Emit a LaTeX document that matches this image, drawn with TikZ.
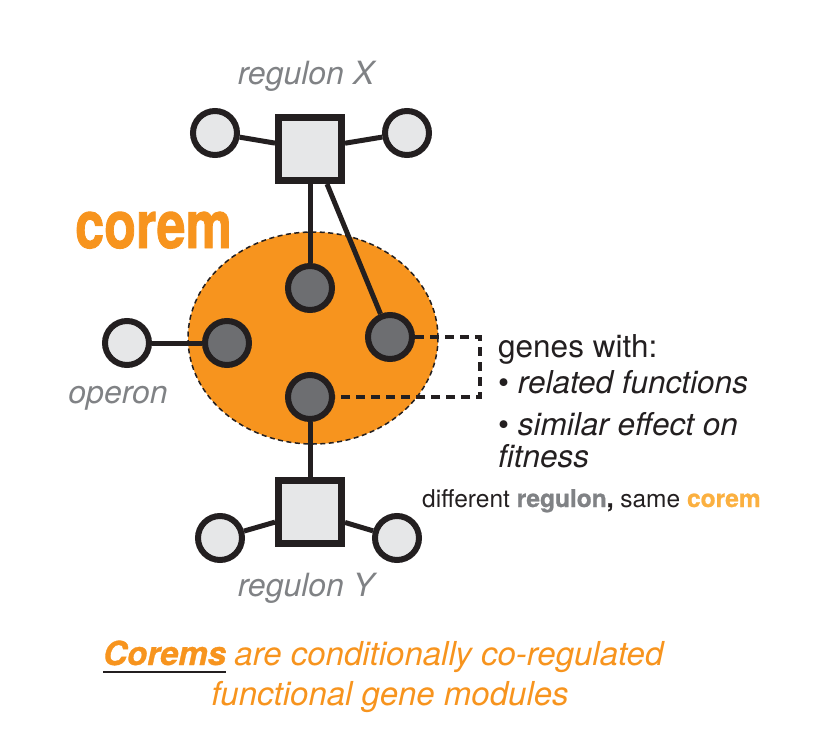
\documentclass[tikz,border=0pt]{standalone}
\usepackage{fontspec}
\setmainfont{TeX Gyre Heros}
\usetikzlibrary{shapes.geometric}
\definecolor{corange}{HTML}{F7941E}
\definecolor{lorange}{HTML}{FBB040}
\definecolor{lgray}{HTML}{E6E7E8}
\definecolor{dgray}{HTML}{6D6E71}
\definecolor{ink}{HTML}{231F20}
\definecolor{lblgray}{HTML}{808285}
\begin{document}
\begin{tikzpicture}[x=1pt,y=-1pt,
 gene/.style={circle,draw=ink,line width=6pt,minimum size=44pt,inner sep=0pt},
 lgene/.style={gene,fill=lgray},
 dgene/.style={gene,fill=dgray},
 reg/.style={rectangle,draw=ink,line width=7pt,fill=lgray,minimum size=63pt,inner sep=0pt},
 link/.style={draw=ink,line width=5pt},
 dashlink/.style={draw=ink,line width=3.5pt,dash pattern=on 9pt off 6pt},
 lbl/.style={text=lblgray,font=\fontsize{32}{36}\selectfont\itshape,inner sep=0pt,anchor=base},
 info/.style={text=ink,font=\fontsize{31.5}{36}\selectfont,inner sep=0pt,anchor=base west},
 bottomtxt/.style={text=corange,font=\fontsize{33}{38}\selectfont\itshape,inner sep=0pt}]
\useasboundingbox (0,0) rectangle (835,749);

% corem ellipse
\node[ellipse,fill=corange,draw=ink,line width=1.5pt,dash pattern=on 5pt off 3.5pt,
      minimum width=250pt,minimum height=212pt,inner sep=0pt] (corem) at (313,338) {};

% regulon X
\node[reg] (sqX) at (310,149) {};
\node[lgene] (xl) at (215,133) {};
\node[lgene] (xr) at (407,133) {};
% regulon Y
\node[reg] (sqY) at (310,512) {};
\node[lgene] (yl) at (220,538) {};
\node[lgene] (yr) at (397,538) {};
% operon
\node[lgene] (op) at (127,343) {};
% corem genes
\node[dgene] (c1) at (310,288) {};
\node[dgene] (c2) at (227,343) {};
\node[dgene] (c3) at (390,337) {};
\node[dgene] (c4) at (310,397) {};

% links
\draw[link] (xl) -- (sqX);
\draw[link] (xr) -- (sqX);
\draw[link] (yl) -- (sqY);
\draw[link] (yr) -- (sqY);
\draw[link] (op) -- (c2);
\draw[link] (sqX) -- (c1);
\draw[link] ([xshift=17pt]sqX.south) -- (c3);
\draw[link] (c4) -- (sqY);

% dashed bracket
\coordinate (brk) at (480,367);
\draw[dashlink] (c3.east) -| (brk) |- (c4.east);

% labels
\node[lbl] (lx) at (306,85) {regulon X};
\node[lbl] (ly) at (306,596) {regulon Y};
\node[lbl] (lop) at (118,403) {operon};
\node[text=corange,font=\fontsize{66}{70}\selectfont\bfseries\addfontfeature{FakeBold=1.5},inner sep=0pt,anchor=base west]
   (tcorem) at (75,248) {\scalebox{0.79}[1]{corem}};

% info text
\node[info] (g1) at (498,357) {genes with:};
\node[info] (g2) at (498,393) {• \textit{related functions}};
\node[info] (g3) at (498,435) {• \textit{similar effect on}};
\node[info] (g4) at (498,467) {\textit{fitness}};
\node[text=ink,font=\fontsize{24.5}{28}\selectfont,inner sep=0pt,anchor=base west] (diff) at (422,507)
   {different {\bfseries\addfontfeature{FakeBold=1}\color{lblgray}regulon}{\bfseries\addfontfeature{FakeBold=1},} same {\bfseries\addfontfeature{FakeBold=1}\color{lorange}corem}};

% bottom caption
\node[bottomtxt,font=\fontsize{33}{38}\selectfont\bfseries\itshape\addfontfeature{FakeBold=1},anchor=base west] (cor) at (103,665) {Corems};
\node[bottomtxt,anchor=base west] (rest) at ([xshift=8pt]cor.base east) {are conditionally co-regulated};
\draw[ink,line width=2pt] ([yshift=-7pt]cor.base west) -- ([yshift=-7pt]cor.base east);
\node[bottomtxt,anchor=base] (line2) at (390,705) {functional gene modules};
\end{tikzpicture}
\end{document}
